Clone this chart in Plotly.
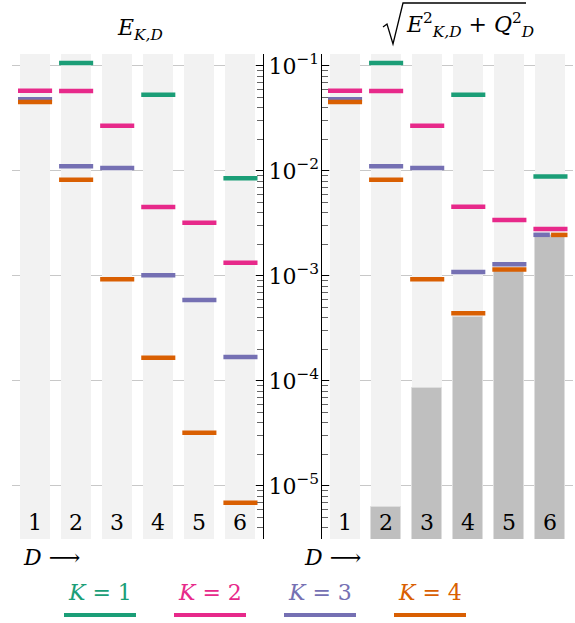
import math
import plotly.graph_objects as go

# ---------------- data ----------------
D = [1, 2, 3, 4, 5, 6]
K_names = ["1", "2", "3", "4"]
K_colors = ["#1b9e77", "#e7298a", "#7570b3", "#d95f02"]

E_K1 = [None, 0.1068, None, 0.0533, None, 0.00851]
E_K2 = [0.0582, 0.0578, 0.0270, 0.00454, 0.00322, 0.00134]
E_K3 = [0.0482, 0.0111, 0.0107, 0.001014, 0.000591, 0.000169]
E_K4 = [0.0454, 0.00826, 0.000929, 0.000166, 3.22e-5, 6.93e-6]
Q_D = [None, 6.3e-6, 8.6e-5, 4.1e-4, 1.15e-3, 2.46e-3]

decades = [-1, -2, -3, -4, -5]

E_all = [E_K1, E_K2, E_K3, E_K4]

# right panel: sqrt(E^2 + Q^2) as in the panel title
R_all = []
for E in E_all:
    row = []
    for e, q in zip(E, Q_D):
        if e is None:
            row.append(None)
        else:
            row.append(math.sqrt(e * e + (q or 0.0) ** 2))
    R_all.append(row)

# ---------------- style ----------------
FONT = "DejaVu Serif"
FS = 22
W, H = 575, 623
M_T, M_B = 54, 84
COL_W = 0.73       # background column width (x units)
HALF_SEG = 0.415   # half width of value segments
XR = [0.439, 6.549]
YR = [-5.505, -0.886]
plot_h = H - M_T - M_B


def px(xp):
    return xp / W


def py(yp):
    return (H - M_B - yp) / plot_h


fig = go.Figure()


def segments(values, panel_vals, k):
    """Build x/y arrays for the horizontal segments of series k."""
    xs, ys = [], []
    for j, d in enumerate(D):
        v = values[j]
        if v is None:
            continue
        group = [kk for kk in range(len(panel_vals))
                 if panel_vals[kk][j] is not None
                 and abs(math.log10(panel_vals[kk][j]) - math.log10(v)) < 0.01]
        n = len(group)
        pos = group.index(k)
        full = 2 * HALF_SEG
        gap = 0.03 if n > 1 else 0.0
        part = (full - gap * (n - 1)) / n
        x0 = d - HALF_SEG + pos * (part + gap)
        xs += [x0, x0 + part, None]
        ys += [v, v, None]
    return xs, ys


# light background columns (full height of each panel)
for xa, ya in (("x", "y"), ("x2", "y2")):
    fig.add_trace(go.Bar(
        x=D, y=[10.0 ** YR[1]] * len(D), width=COL_W, xaxis=xa, yaxis=ya,
        marker=dict(color="#f2f2f2", line=dict(width=0)),
        showlegend=False, hoverinfo="skip"))

# Q bars (right panel)
fig.add_trace(go.Bar(
    x=D, y=Q_D, width=COL_W, xaxis="x2", yaxis="y2",
    marker=dict(color="#bfbfbf", line=dict(color="#dedede", width=1)),
    showlegend=False, hoverinfo="skip"))

for k in range(4):
    xs, ys = segments(E_all[k], E_all, k)
    fig.add_trace(go.Scatter(x=xs, y=ys, mode="lines", xaxis="x", yaxis="y",
                             line=dict(color=K_colors[k], width=4.5),
                             showlegend=False, hoverinfo="skip"))
    xs, ys = segments(R_all[k], R_all, k)
    fig.add_trace(go.Scatter(x=xs, y=ys, mode="lines", xaxis="x2", yaxis="y2",
                             line=dict(color=K_colors[k], width=4.5),
                             showlegend=False, hoverinfo="skip"))

shapes = []
annotations = []

# column numbers
for xr, yr in (("x", "y"), ("x2", "y2")):
    for d in D:
        annotations.append(dict(xref=xr, yref=yr + " domain", x=d, y=0.035,
                                text=str(d), showarrow=False,
                                xanchor="center", yanchor="middle",
                                font=dict(family=FONT, size=FS, color="black")))
# "D ->" labels
for xl in (21, 302):
    annotations.append(dict(xref="paper", yref="paper", x=px(xl), y=py(557),
                            xanchor="left", yanchor="middle", showarrow=False,
                            text="<i>D</i> ⟶",
                            font=dict(family=FONT, size=FS, color="black")))

# titles
annotations.append(dict(xref="paper", yref="paper", x=px(140), y=py(30),
                        showarrow=False, xanchor="center", yanchor="middle",
                        text="<i>E</i><sub><i>K,D</i></sub>",
                        font=dict(family=FONT, size=FS, color="black")))
annotations.append(dict(xref="paper", yref="paper", x=px(404), y=py(25),
                        showarrow=False, yanchor="middle", xanchor="left",
                        text="<i>E</i><sup>2</sup><sub><i>K,D</i></sub> + <i>Q</i><sup>2</sup><sub><i>D</i></sub>",
                        font=dict(family=FONT, size=FS, color="black")))
# radical sign drawn as a path
rad = [(383, 27), (387, 24), (393, 44), (403, 3), (526, 3)]
path = "M " + " L ".join("%.5f,%.5f" % (px(a), py(b)) for a, b in rad)
shapes.append(dict(type="path", xref="paper", yref="paper", path=path,
                   line=dict(color="black", width=1.3)))

# legend (text + line underneath)
for k in range(4):
    cx = px(100 + 110 * k)
    annotations.append(dict(xref="paper", yref="paper", x=cx, y=py(592),
                            showarrow=False, xanchor="center", yanchor="middle",
                            text="<i>K</i> = " + K_names[k],
                            font=dict(family=FONT, size=FS, color=K_colors[k])))
    shapes.append(dict(type="line", xref="paper", yref="paper",
                       x0=cx - px(36), x1=cx + px(36), y0=py(615), y1=py(615),
                       line=dict(color=K_colors[k], width=4)))

tick_text = ["10<sup>−%d</sup>" % (-p) for p in decades]
common_y = dict(type="log", range=YR, tickmode="array",
                tickvals=[10.0 ** p for p in decades],
                ticks="inside", ticklen=7, tickcolor="black", tickwidth=1,
                showline=True, linecolor="black", linewidth=1,
                showgrid=True, gridcolor="#c8c8c8", gridwidth=1, zeroline=False,
                minor=dict(ticks="inside", ticklen=6, tickcolor="#666666",
                           tickwidth=1, showgrid=False, dtick="D1"),
                tickfont=dict(family=FONT, size=FS, color="black"))

fig.update_layout(
    width=W, height=H,
    margin=dict(l=0, r=0, t=M_T, b=M_B, autoexpand=False),
    paper_bgcolor="white", plot_bgcolor="white",
    showlegend=False, barmode="overlay", bargap=0,
    font=dict(family=FONT),
    xaxis=dict(domain=[12 / W, 263 / W], range=XR, visible=False),
    xaxis2=dict(domain=[322 / W, 573 / W], range=XR, visible=False),
    yaxis=dict(anchor="x", side="right", ticktext=tick_text,
               showticklabels=True, **common_y),
    yaxis2=dict(anchor="x2", side="left", showticklabels=False, **common_y),
    shapes=shapes,
    annotations=annotations,
)

fig.write_html("out.html", config={"displayModeBar": False},
               post_script="document.body.style.margin='0';")
